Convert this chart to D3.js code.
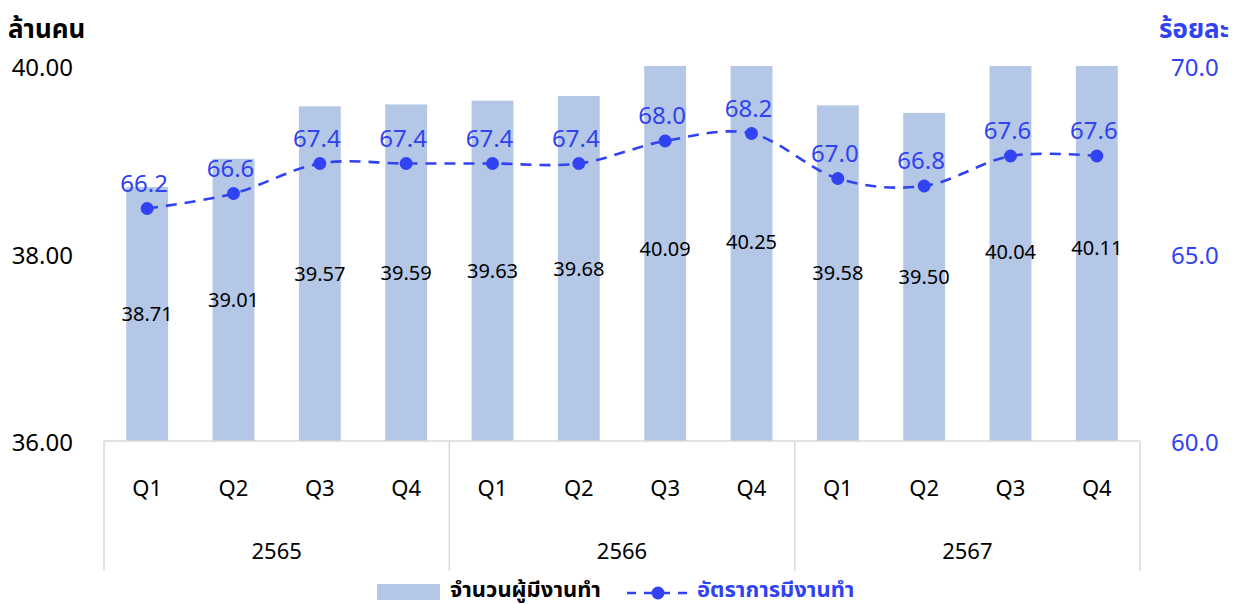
<!DOCTYPE html>
<html><head><meta charset="utf-8">
<script src="https://cdn.jsdelivr.net/npm/d3@7"></script>
<style>
body{margin:0;background:#fff;}
text{font-family:"Noto Sans","Noto Sans Thai",Tahoma,sans-serif;}
</style></head>
<body>
<svg id="c" width="1239" height="604"></svg>
<script>
const quarters = ["Q1","Q2","Q3","Q4","Q1","Q2","Q3","Q4","Q1","Q2","Q3","Q4"];
const years = ["2565","2566","2567"];
const employed = [38.71,39.01,39.57,39.59,39.63,39.68,40.09,40.25,39.58,39.50,40.04,40.11];
const rate = [66.2,66.6,67.4,67.4,67.4,67.4,68.0,68.2,67.0,66.8,67.6,67.6];
const leftTicks = [36,38,40];
const rightTicks = [60,65,70];
const leftTitle = "ล้านคน";
const rightTitle = "ร้อยละ";
const seriesNames = ["จำนวนผู้มีงานทำ","อัตราการมีงานทำ"];

const svg = d3.select("#c");
const L = 104, R = 1140, T = 66, B = 441;
const barColor = "#B4C7E7", blue = "#3042F2", grid = "#D9D9D9";
const idx = d3.range(quarters.length);
const x = d3.scaleBand().domain(idx).range([L, R]).paddingInner(0.515).paddingOuter(0.2575);
const yL = d3.scaleLinear().domain([36,40]).range([B,T]);
const yR = d3.scaleLinear().domain([60,70]).range([B,T]);
const cx = i => x(i) + x.bandwidth()/2;

// bars (clipped to plot area)
svg.append("clipPath").attr("id","clip").append("rect").attr("x",L).attr("y",T).attr("width",R-L).attr("height",B-T);
svg.append("g").attr("clip-path","url(#clip)").selectAll("rect").data(employed).join("rect")
  .attr("x",(d,i)=>x(i)).attr("width",x.bandwidth())
  .attr("y",d=>yL(d)).attr("height",d=>B-yL(d)).attr("fill",barColor);

// bar labels
svg.append("g").selectAll("text").data(employed).join("text")
  .attr("x",(d,i)=>cx(i)).attr("y",d=>(yL(d)+B)/2+7)
  .attr("text-anchor","middle").attr("font-size",20).attr("fill","#000")
  .text(d=>d.toFixed(2));

// axes
const la = d3.axisLeft(yL).tickValues(leftTicks).tickFormat(d3.format(".2f")).tickSize(0).tickPadding(0);
const gl = svg.append("g").attr("transform","translate(73,2)").call(la);
gl.select(".domain").remove();
gl.selectAll("text").attr("font-size",24).attr("fill","#000").attr("font-family","Noto Sans");
const ra = d3.axisRight(yR).tickValues(rightTicks).tickFormat(d3.format(".1f")).tickSize(0).tickPadding(0);
const gr = svg.append("g").attr("transform","translate(1171,2)").call(ra);
gr.select(".domain").remove();
gr.selectAll("text").attr("font-size",24).attr("fill",blue).attr("font-family","Noto Sans");

// category axis
svg.append("line").attr("x1",L).attr("x2",R).attr("y1",B).attr("y2",B).attr("stroke",grid).attr("stroke-width",1.5);
const sepX = [0,4,8,12].map(k => L + k*(R-L)/12);
svg.append("g").selectAll("line").data(sepX).join("line")
  .attr("x1",d=>d).attr("x2",d=>d).attr("y1",B).attr("y2",571).attr("stroke",grid).attr("stroke-width",1.5);
svg.append("g").selectAll("text").data(quarters).join("text")
  .attr("x",(d,i)=>cx(i)).attr("y",496).attr("text-anchor","middle").attr("font-size",22).attr("fill","#000").text(d=>d);
svg.append("g").selectAll("text").data(years).join("text")
  .attr("x",(d,i)=>(sepX[i]+sepX[i+1])/2).attr("y",559).attr("text-anchor","middle").attr("font-size",22).attr("fill","#000").text(d=>d);

// line
const line = d3.line().x((d,i)=>cx(i)).y(d=>yR(d)).curve(d3.curveCatmullRom.alpha(0));
svg.append("path").datum(rate).attr("d",line).attr("fill","none").attr("stroke",blue)
  .attr("stroke-width",2.6).attr("stroke-dasharray","11,8");
svg.append("g").selectAll("circle").data(rate).join("circle")
  .attr("cx",(d,i)=>cx(i)).attr("cy",d=>yR(d)).attr("r",6.5).attr("fill",blue);
svg.append("g").selectAll("text").data(rate).join("text")
  .attr("x",(d,i)=>cx(i)-3).attr("y",d=>yR(d)-17).attr("text-anchor","middle")
  .attr("font-size",24).attr("fill",blue).text(d=>d.toFixed(1));

// titles
svg.append("text").attr("x",8).attr("y",38).attr("font-size",26).attr("font-weight","bold").attr("fill","#000").text(leftTitle);
svg.append("text").attr("x",1229).attr("y",38).attr("text-anchor","end").attr("font-size",26).attr("font-weight","bold").attr("fill",blue).text(rightTitle);

// legend
const lg = svg.append("g");
lg.append("rect").attr("x",377).attr("y",584).attr("width",63).attr("height",16).attr("fill",barColor);
lg.append("text").attr("x",450).attr("y",597).attr("font-size",22).attr("font-weight","bold").attr("fill","#000").text(seriesNames[0]);
lg.append("line").attr("x1",627).attr("x2",689).attr("y1",593).attr("y2",593).attr("stroke",blue).attr("stroke-width",2.6).attr("stroke-dasharray","9,8");
lg.append("circle").attr("cx",658).attr("cy",593).attr("r",6.5).attr("fill",blue);
lg.append("text").attr("x",697).attr("y",597).attr("font-size",22).attr("font-weight","bold").attr("fill",blue).text(seriesNames[1]);
</script>
</body></html>
